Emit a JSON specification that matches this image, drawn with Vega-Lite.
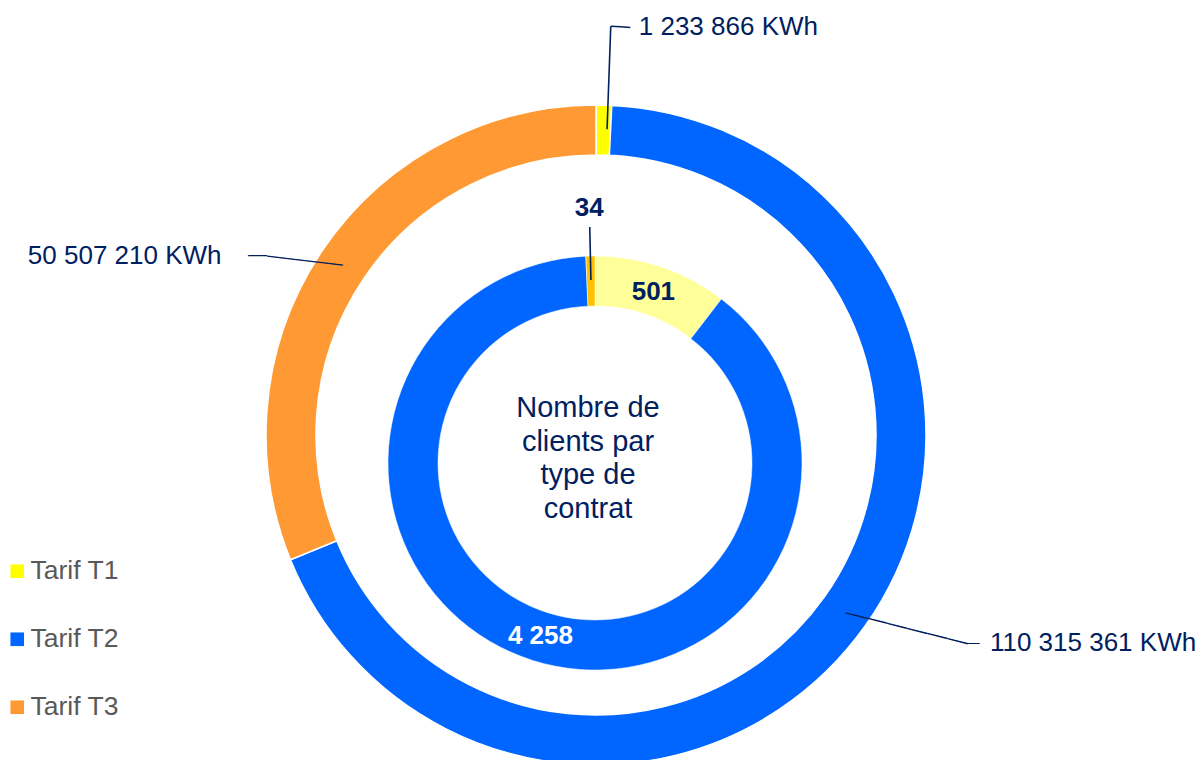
{
  "$schema": "https://vega.github.io/schema/vega-lite/v6.json",
  "width": 1204,
  "height": 760,
  "autosize": "none",
  "padding": 0,
  "background": "white",
  "config": {"view": {"stroke": null}, "font": "Liberation Sans"},
  "datasets": {
    "energie": [
      {"tarif": "Tarif T1", "kwh": 1233866, "label": "1 233 866 KWh"},
      {"tarif": "Tarif T2", "kwh": 110315361, "label": "110 315 361 KWh"},
      {"tarif": "Tarif T3", "kwh": 50507210, "label": "50 507 210 KWh"}
    ],
    "clients": [
      {"tarif": "Tarif T1", "clients": 501, "label": "501"},
      {"tarif": "Tarif T2", "clients": 4258, "label": "4 258"},
      {"tarif": "Tarif T3", "clients": 34, "label": "34"}
    ],
    "titre": [{"texte": ["Nombre de", "clients par", "type de", "contrat"]}]
  },
  "layer": [
    {
      "data": {"name": "energie"},
      "encoding": {
        "theta": {"field": "kwh", "type": "quantitative", "stack": true},
        "order": {"field": "tarif", "type": "ordinal", "sort": "ascending"},
        "detail": {"field": "tarif", "type": "nominal"}
      },
      "layer": [
        {
          "mark": {"type": "arc", "x": 596, "y": 435, "innerRadius": 280, "outerRadius": 330, "stroke": "white", "strokeWidth": 1.5},
          "encoding": {
            "color": {
              "field": "tarif", "type": "nominal",
              "scale": {"domain": ["Tarif T1", "Tarif T2", "Tarif T3"], "range": ["#FFFF00", "#0066FF", "#FF9933"]},
              "legend": {
                "title": null, "orient": "none", "legendX": 4, "legendY": 558,
                "symbolType": "square", "symbolSize": 185, "symbolStrokeWidth": 0,
                "labelFontSize": 26.5, "labelColor": "#595959", "labelFont": "Liberation Sans",
                "rowPadding": 41, "labelOffset": 0
              }
            }
          }
        },
        {
          "mark": {"type": "arc", "x": 596, "y": 435, "innerRadius": 306, "outerRadius": 409, "padAngle": 0.6, "thetaOffset": 0.0122, "stroke": "#002060", "strokeWidth": 1.6, "fill": "white", "fillOpacity": 0},
          "encoding": {"strokeOpacity": {"condition": {"test": "datum.tarif === 'Tarif T1'", "value": 1}, "value": 0}}
        },
        {
          "mark": {"type": "arc", "x": 596, "y": 435, "innerRadius": 408.2, "outerRadius": 409.8, "thetaOffset": 0.03613, "fill": "#002060", "strokeWidth": 0},
          "encoding": {"fillOpacity": {"condition": {"test": "datum.tarif === 'Tarif T1'", "value": 1}, "value": 0}}
        },
        {
          "mark": {"type": "text", "x": 596, "y": 435, "radius": 360, "align": "center", "baseline": "middle", "angle": 14.26, "dx": 12.7, "dy": -19.0, "fontSize": 21, "color": "#002060"},
          "encoding": {"text": {"value": "——————"}, "opacity": {"condition": {"test": "datum.tarif === 'Tarif T2'", "value": 1}, "value": 0}}
        },
        {
          "mark": {"type": "text", "x": 596, "y": 435, "radius": 360, "align": "center", "baseline": "middle", "dx": 83.5, "dy": 0.2, "fontSize": 12, "color": "#002060"},
          "encoding": {"text": {"value": "—"}, "opacity": {"condition": {"test": "datum.tarif === 'Tarif T2'", "value": 1}, "value": 0}}
        },
        {
          "mark": {"type": "text", "x": 596, "y": 435, "radius": 339.4, "align": "center", "baseline": "middle", "angle": 6.75, "dx": -7.6, "dy": 14.8, "fontSize": 19.1, "color": "#002060"},
          "encoding": {"text": {"value": "————"}, "opacity": {"condition": {"test": "datum.tarif === 'Tarif T3'", "value": 1}, "value": 0}}
        },
        {
          "mark": {"type": "text", "x": 596, "y": 435, "radius": 339.4, "align": "center", "baseline": "middle", "dx": -56.8, "dy": 8.8, "fontSize": 19, "color": "#002060"},
          "encoding": {"text": {"value": "—"}, "opacity": {"condition": {"test": "datum.tarif === 'Tarif T3'", "value": 1}, "value": 0}}
        },
        {
          "mark": {"type": "text", "x": 596, "y": 435, "radius": 408, "align": "left", "baseline": "middle", "dx": 33, "fontSize": 26, "color": "#002060"},
          "encoding": {"text": {"field": "label"}, "opacity": {"condition": {"test": "datum.tarif === 'Tarif T1'", "value": 1}, "value": 0}}
        },
        {
          "mark": {"type": "text", "x": 596, "y": 435, "radius": 360, "align": "left", "baseline": "middle", "dx": 100, "fontSize": 26, "color": "#002060"},
          "encoding": {"text": {"field": "label"}, "opacity": {"condition": {"test": "datum.tarif === 'Tarif T2'", "value": 1}, "value": 0}}
        },
        {
          "mark": {"type": "text", "x": 596, "y": 435, "radius": 321, "align": "right", "baseline": "middle", "dx": -108, "fontSize": 26, "color": "#002060"},
          "encoding": {"text": {"field": "label"}, "opacity": {"condition": {"test": "datum.tarif === 'Tarif T3'", "value": 1}, "value": 0}}
        }
      ]
    },
    {
      "data": {"name": "clients"},
      "encoding": {
        "theta": {"field": "clients", "type": "quantitative", "stack": true},
        "order": {"field": "tarif", "type": "ordinal", "sort": "ascending"},
        "detail": {"field": "tarif", "type": "nominal"}
      },
      "layer": [
        {
          "mark": {"type": "arc", "x": 595, "y": 463, "innerRadius": 157, "outerRadius": 207, "stroke": "white", "strokeWidth": 0.5},
          "encoding": {
            "color": {
              "field": "tarif", "type": "nominal",
              "scale": {"domain": ["Tarif T1", "Tarif T2", "Tarif T3"], "range": ["#FFFF99", "#0066FF", "#FFC000"]},
              "legend": null
            }
          }
        },
        {
          "mark": {"type": "arc", "x": 595, "y": 463, "innerRadius": 183, "outerRadius": 236, "padAngle": 0.6, "stroke": "#002060", "strokeWidth": 1.6, "fill": "white", "fillOpacity": 0},
          "encoding": {"strokeOpacity": {"condition": {"test": "datum.tarif === 'Tarif T3'", "value": 1}, "value": 0}}
        },
        {
          "mark": {"type": "text", "x": 595, "y": 463, "radius": 181, "align": "center", "baseline": "middle", "fontSize": 26, "fontWeight": "bold"},
          "encoding": {
            "text": {"field": "label"},
            "color": {"condition": {"test": "datum.tarif === 'Tarif T2'", "value": "white"}, "value": "#002060"},
            "opacity": {"condition": {"test": "datum.tarif === 'Tarif T3'", "value": 0}, "value": 1}
          }
        },
        {
          "mark": {"type": "text", "x": 595, "y": 463, "radius": 255, "align": "center", "baseline": "middle", "fontSize": 26, "fontWeight": "bold", "color": "#002060"},
          "encoding": {
            "text": {"field": "label"},
            "opacity": {"condition": {"test": "datum.tarif === 'Tarif T3'", "value": 1}, "value": 0}
          }
        }
      ]
    },
    {
      "data": {"name": "titre"},
      "mark": {"type": "text", "x": 588, "y": 408, "align": "center", "baseline": "middle", "fontSize": 29, "lineHeight": 33.5, "color": "#002060"},
      "encoding": {"text": {"field": "texte"}}
    }
  ],
  "resolve": {"scale": {"theta": "independent", "color": "independent"}}
}
